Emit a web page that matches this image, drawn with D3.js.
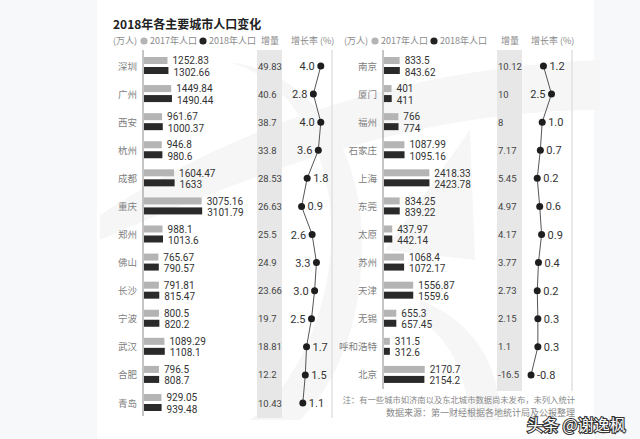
<!DOCTYPE html>
<html>
<head>
<meta charset="utf-8">
<script src="https://cdn.jsdelivr.net/npm/d3@7"></script>
<style>
  body { margin: 0; background: #f7f8fa; }
  svg { display: block; }
  .cn { font-family: "Noto Sans CJK SC", sans-serif; }
  .num { font-family: Roboto, "Noto Sans CJK SC", sans-serif; }
</style>
</head>
<body>
<svg id="chart"></svg>
<script>
/////////////////////////////////////////////////
/////////////////// Data ////////////////////////
/////////////////////////////////////////////////

var leftCities = ["深圳", "广州", "西安", "杭州", "成都", "重庆", "郑州", "佛山", "长沙", "宁波", "武汉", "合肥", "青岛"];
var left2017 = [1252.83, 1449.84, 961.67, 946.8, 1604.47, 3075.16, 988.1, 765.67, 791.81, 800.5, 1089.29, 796.5, 929.05];
var left2018 = [1302.66, 1490.44, 1000.37, 980.6, 1633, 3101.79, 1013.6, 790.57, 815.47, 820.2, 1108.1, 808.7, 939.48];
var leftIncrease = [49.83, 40.6, 38.7, 33.8, 28.53, 26.63, 25.5, 24.9, 23.66, 19.7, 18.81, 12.2, 10.43];
var leftRate = [4.0, 2.8, 4.0, 3.6, 1.8, 0.9, 2.6, 3.3, 3.0, 2.5, 1.7, 1.5, 1.1];

var rightCities = ["南京", "厦门", "福州", "石家庄", "上海", "东莞", "太原", "苏州", "天津", "无锡", "呼和浩特", "北京"];
var right2017 = [833.5, 401, 766, 1087.99, 2418.33, 834.25, 437.97, 1068.4, 1556.87, 655.3, 311.5, 2170.7];
var right2018 = [843.62, 411, 774, 1095.16, 2423.78, 839.22, 442.14, 1072.17, 1559.6, 657.45, 312.6, 2154.2];
var rightIncrease = [10.12, 10, 8, 7.17, 5.45, 4.97, 4.17, 3.77, 2.73, 2.15, 1.1, -16.5];
var rightRate = [1.2, 2.5, 1.0, 0.7, 0.2, 0.6, 0.9, 0.4, 0.2, 0.3, 0.3, -0.8];

var title = "2018年各主要城市人口变化";
var legendLabels = ["(万人)", "2017年人口", "2018年人口", "增量", "增长率 (%)"];
var notes = ["注：有一些城市如济南以及东北城市数据尚未发布，未列入统计",
             "数据来源：第一财经根据各地统计局及公报整理"];
var stamp = "头条 @谢逸枫";

/////////////////////////////////////////////////
/////////////////// Layout //////////////////////
/////////////////////////////////////////////////

var svgWidth = 640, svgHeight = 439;
var svg = d3.select("#chart").attr("width", svgWidth).attr("height", svgHeight);

svg.append("rect").attr("x", 97).attr("y", 0).attr("width", 497).attr("height", svgHeight).attr("fill", "#ffffff");

// faint watermark shapes behind the chart
var wm = svg.append("g").attr("fill", "#f6f6f6");
wm.append("path").attr("d", "M228,62 C300,80 340,170 330,260 C322,330 290,390 250,420 L300,420 C350,370 368,290 360,210 C350,130 300,70 228,62 Z");
wm.append("path").attr("d", "M100,215 C200,150 360,70 600,60 L600,110 C420,110 260,170 100,240 Z");
wm.append("path").attr("d", "M385,250 L470,130 L475,260 Z");
wm.append("path").attr("d", "M420,300 C470,320 500,360 500,420 L470,420 C465,370 450,340 420,320 Z");

svg.append("text").attr("class", "cn")
  .attr("x", 113).attr("y", 29)
  .attr("font-size", 12).attr("font-weight", 700).attr("fill", "#222")
  .text(title);

var y = d3.scaleLinear().domain([0, 12]).range([66, 403]);
var xBar = d3.scaleLinear().domain([0, 3200]).range([0, 60]);

function drawPanel(axisX, legendX, cities, v2017, v2018, inc, rate, bottom) {
  var g = svg.append("g");
  var n = cities.length;

  // legend row
  var lg = g.append("g").attr("fill", "#8a8a8a").attr("font-size", 9);
  lg.append("text").attr("class", "cn").attr("x", legendX).attr("y", 44).text(legendLabels[0]);
  lg.append("circle").attr("cx", legendX + 31).attr("cy", 41).attr("r", 3.6).attr("fill", "#b4b4b4");
  lg.append("text").attr("class", "cn").attr("x", legendX + 37).attr("y", 44).text(legendLabels[1]);
  lg.append("circle").attr("cx", legendX + 90).attr("cy", 41).attr("r", 3.6).attr("fill", "#222");
  lg.append("text").attr("class", "cn").attr("x", legendX + 96).attr("y", 44).text(legendLabels[2]);
  lg.append("text").attr("class", "cn").attr("x", axisX + 118).attr("y", 44).text(legendLabels[3]);
  lg.append("text").attr("class", "cn").attr("x", axisX + 148).attr("y", 44).text(legendLabels[4]);

  // increase column band + right border
  g.append("rect").attr("x", axisX + 114).attr("y", 50).attr("width", 25).attr("height", bottom - 50).attr("fill", "#e7e7e7");
  g.append("line").attr("x1", axisX + 189).attr("x2", axisX + 189).attr("y1", 50).attr("y2", bottom)
    .attr("stroke", "#e0e0e0").attr("stroke-width", 1.5);

  // axis
  g.append("line").attr("x1", axisX).attr("x2", axisX).attr("y1", 50).attr("y2", bottom - 2)
    .attr("stroke", "#8c8c8c").attr("stroke-width", 1);

  var idx = d3.range(n);

  g.selectAll(".city").data(idx).enter().append("text").attr("class", "cn")
    .attr("x", axisX - 6).attr("y", function (i) { return y(i) + 3.5; })
    .attr("text-anchor", "end").attr("font-size", 9.5).attr("fill", "#808080")
    .text(function (i) { return cities[i]; });

  g.selectAll(".b17").data(idx).enter().append("rect")
    .attr("x", axisX + 1).attr("y", function (i) { return y(i) - 9; })
    .attr("width", function (i) { return xBar(v2017[i]); }).attr("height", 7)
    .attr("fill", "#b4b4b4");
  g.selectAll(".b18").data(idx).enter().append("rect")
    .attr("x", axisX + 1).attr("y", function (i) { return y(i) + 1; })
    .attr("width", function (i) { return xBar(v2018[i]); }).attr("height", 7)
    .attr("fill", "#2a2a2a");

  g.selectAll(".t17").data(idx).enter().append("text").attr("class", "num")
    .attr("x", function (i) { return axisX + xBar(v2017[i]) + 6; })
    .attr("y", function (i) { return y(i) - 1.8; })
    .attr("font-size", 10).attr("fill", "#333")
    .text(function (i) { return String(v2017[i]); });
  g.selectAll(".t18").data(idx).enter().append("text").attr("class", "num")
    .attr("x", function (i) { return axisX + xBar(v2018[i]) + 6; })
    .attr("y", function (i) { return y(i) + 9.5; })
    .attr("font-size", 10).attr("fill", "#333")
    .text(function (i) { return String(v2018[i]); });

  g.selectAll(".inc").data(idx).enter().append("text").attr("class", "num")
    .attr("x", axisX + 115).attr("y", function (i) { return y(i) + 3.5; })
    .attr("font-size", 9.5).attr("fill", "#444")
    .text(function (i) { return String(inc[i]); });

  // growth rate line
  var xr = d3.scaleLinear().domain([0, 4]).range([axisX + 153, axisX + 153 + 24.8]);
  var line = d3.line().x(function (i) { return xr(rate[i]); }).y(function (i) { return y(i); });
  g.append("path").datum(idx).attr("d", line).attr("fill", "none")
    .attr("stroke", "#555").attr("stroke-width", 1);
  g.selectAll(".dot").data(idx).enter().append("circle")
    .attr("cx", function (i) { return xr(rate[i]); }).attr("cy", function (i) { return y(i); })
    .attr("r", 3.5).attr("fill", "#1e1e1e");
  g.selectAll(".rate").data(idx).enter().append("text").attr("class", "num")
    .attr("x", function (i) { return rate[i] >= 2.5 ? xr(rate[i]) - 6 : xr(rate[i]) + 6; })
    .attr("y", function (i) { return y(i) + 4; })
    .attr("text-anchor", function (i) { return rate[i] >= 2.5 ? "end" : "start"; })
    .attr("font-size", 11).attr("fill", "#333")
    .text(function (i) { return rate[i].toFixed(1); });
}

drawPanel(143, 113, leftCities, left2017, left2018, leftIncrease, leftRate, 418);
drawPanel(383, 344, rightCities, right2017, right2018, rightIncrease, rightRate, 391);

var noteSizes = [8.3, 9];
svg.selectAll(".note").data(notes).enter().append("text").attr("class", "cn")
  .attr("x", 575).attr("y", function (d, i) { return 403 + i * 12.5; })
  .attr("text-anchor", "end").attr("font-size", function (d, i) { return noteSizes[i]; }).attr("fill", "#888")
  .text(function (d) { return d; });

svg.append("text").attr("class", "cn")
  .attr("x", 527).attr("y", 431)
  .attr("font-size", 16).attr("fill", "#fff")
  .attr("stroke", "#333").attr("stroke-width", 2.2).attr("paint-order", "stroke")
  .text(stamp);
</script>
</body>
</html>
